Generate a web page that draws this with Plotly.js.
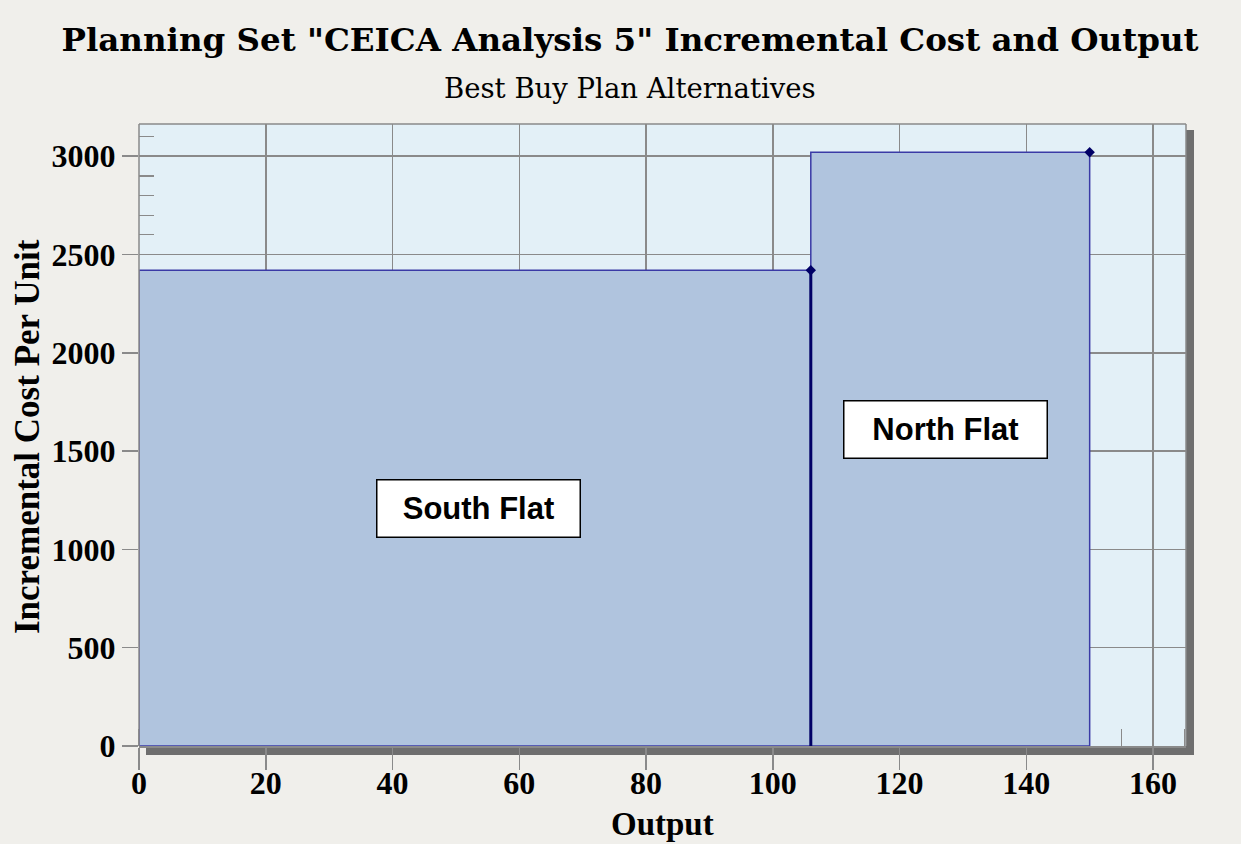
<!DOCTYPE html>
<html>
<head>
<meta charset="utf-8">
<script src="https://cdn.plot.ly/plotly-3.0.1.min.js"></script>
<style>
  html, body { margin: 0; padding: 0; background: #f0efeb; }
  #chart { width: 1241px; height: 844px; }
</style>
</head>
<body>
<div id="chart"></div>
<script>
// ---- Data ----
const planNames = ["South Flat", "North Flat"];
const cumulativeOutput = [106, 150];      // right edge of each plan's step
const incrementalCost = [2420, 3020];     // incremental cost per unit
const xTickValues = [0, 20, 40, 60, 80, 100, 120, 140, 160];
const yTickValues = [0, 500, 1000, 1500, 2000, 2500, 3000];

const titleText = 'Planning Set "CEICA Analysis 5" Incremental Cost and Output';
const subtitleText = 'Best Buy Plan Alternatives';
const xTitle = 'Output';
const yTitle = 'Incremental Cost Per Unit';

// ---- Build traces ----
const traces = [];
for (let i = 0; i < planNames.length; i++) {
  const x0 = i === 0 ? 0 : cumulativeOutput[i - 1];
  const x1 = cumulativeOutput[i];
  const c = incrementalCost[i];
  traces.push({
    type: 'scatter', mode: 'lines', name: planNames[i],
    x: [x0, x0, x1, x1, x0], y: [0, c, c, 0, 0],
    fill: 'toself', fillcolor: '#b0c4de',
    line: { color: '#3a3aa6', width: 1.5 },
    hoverinfo: 'skip', showlegend: false
  });
}
// thick boundary at the end of the first plan
traces.push({
  type: 'scatter', mode: 'lines',
  x: [cumulativeOutput[0], cumulativeOutput[0]], y: [0, incrementalCost[0]],
  line: { color: '#000066', width: 3 }, showlegend: false, hoverinfo: 'skip'
});
// corner markers
traces.push({
  type: 'scatter', mode: 'markers',
  x: cumulativeOutput, y: incrementalCost,
  marker: { color: '#000066', size: 8, symbol: 'diamond' },
  showlegend: false, hoverinfo: 'skip'
});

const W = 1241, H = 844;
const mL = 139, mR = 55, mT = 124, mB = 98;
const pw = W - mL - mR, ph = H - mT - mB;
const px = v => v / pw, py = v => v / ph;
const serif = 'Liberation Serif, DejaVu Serif, serif';
const gray = '#8a8a8a';

const layout = {
  width: W, height: H,
  margin: { l: mL, r: mR, t: mT, b: mB, pad: 0 },
  paper_bgcolor: '#f0efeb',
  plot_bgcolor: 'rgba(0,0,0,0)',
  showlegend: false,
  title: {
    text: '<b>' + titleText + '</b>',
    font: { family: 'DejaVu Serif, serif', size: 32.5, color: '#000' },
    x: 630 / W, xanchor: 'center', xref: 'container',
    y: 1 - 40 / H, yanchor: 'middle', yref: 'container'
  },
  xaxis: {
    range: [0, 165.2], tickvals: xTickValues, ticktext: xTickValues.map(String),
    showgrid: true, gridcolor: gray, gridwidth: 1.5,
    zeroline: false, showline: true, linecolor: gray, linewidth: 1.5,
    ticks: 'outside', ticklen: 22, tickwidth: 1.5, tickcolor: gray,
    ticklabelstandoff: -14,
    minor: { dtick: 5, ticks: 'inside', ticklen: 17, tickwidth: 1.2, tickcolor: gray, showgrid: false },
    tickfont: { family: serif, size: 32, color: '#000', weight: 'bold' },
    layer: 'below traces', fixedrange: true
  },
  yaxis: {
    range: [0, 3164], tickvals: yTickValues, ticktext: yTickValues.map(String),
    showgrid: true, gridcolor: gray, gridwidth: 1.5,
    zeroline: false, showline: false,
    ticks: 'outside', ticklen: 16, tickwidth: 1.5, tickcolor: gray,
    minor: { dtick: 100, ticks: 'inside', ticklen: 15, tickwidth: 1.2, tickcolor: gray, showgrid: false },
    tickfont: { family: serif, size: 32, color: '#000', weight: 'bold' },
    layer: 'below traces', fixedrange: true
  },
  shapes: [
    // drop shadow
    { type: 'rect', xref: 'paper', yref: 'paper', layer: 'below',
      x0: px(7), x1: 1 + px(8), y0: -py(9), y1: 1 - py(6),
      fillcolor: '#6e6e6e', line: { width: 0 } },
    // plot background
    { type: 'rect', xref: 'paper', yref: 'paper', layer: 'below',
      x0: 0, x1: 1, y0: 0, y1: 1,
      fillcolor: '#e3f0f7', line: { width: 0 } },
    // frame: left, top, right
    { type: 'line', xref: 'paper', yref: 'paper', layer: 'above',
      x0: 0, x1: 0, y0: 0, y1: 1, line: { color: gray, width: 1.5 } },
    { type: 'line', xref: 'paper', yref: 'paper', layer: 'above',
      x0: 0, x1: 1, y0: 1, y1: 1, line: { color: gray, width: 1.5 } },
    { type: 'line', xref: 'paper', yref: 'paper', layer: 'above',
      x0: 1, x1: 1, y0: 0, y1: 1, line: { color: gray, width: 1.5 } }
  ],
  annotations: [
    { text: subtitleText, xref: 'paper', yref: 'paper',
      x: (630 - mL) / pw, y: (mT + ph - 88) / ph, xanchor: 'center', yanchor: 'middle',
      showarrow: false, font: { family: 'DejaVu Serif, serif', size: 27.5, color: '#000' } },
    { text: '<b>' + xTitle + '</b>', xref: 'paper', yref: 'paper',
      x: (662 - mL) / pw, y: (mT + ph - 824) / ph, xanchor: 'center', yanchor: 'middle',
      showarrow: false, font: { family: serif, size: 33, color: '#000' } },
    { text: '<b>' + yTitle + '</b>', xref: 'paper', yref: 'paper', textangle: -90,
      x: (27 - mL) / pw, y: (mT + ph - 437) / ph, xanchor: 'center', yanchor: 'middle',
      showarrow: false, font: { family: serif, size: 35, color: '#000' } },
    { text: '<b>' + planNames[0] + '</b>', xref: 'x', yref: 'y', x: 53.5, y: 1208,
      showarrow: false, bgcolor: '#ffffff', bordercolor: '#000', borderwidth: 1.5,
      width: 200, height: 54, borderpad: 1, align: 'center', valign: 'middle',
      font: { family: 'Liberation Sans, Arial, sans-serif', size: 31, color: '#000' } },
    { text: '<b>' + planNames[1] + '</b>', xref: 'x', yref: 'y', x: 127.2, y: 1612,
      showarrow: false, bgcolor: '#ffffff', bordercolor: '#000', borderwidth: 1.5,
      width: 200, height: 54, borderpad: 1, align: 'center', valign: 'middle',
      font: { family: 'Liberation Sans, Arial, sans-serif', size: 31, color: '#000' } }
  ]
};

Plotly.newPlot('chart', traces, layout, { displayModeBar: false, staticPlot: true });
</script>
</body>
</html>
